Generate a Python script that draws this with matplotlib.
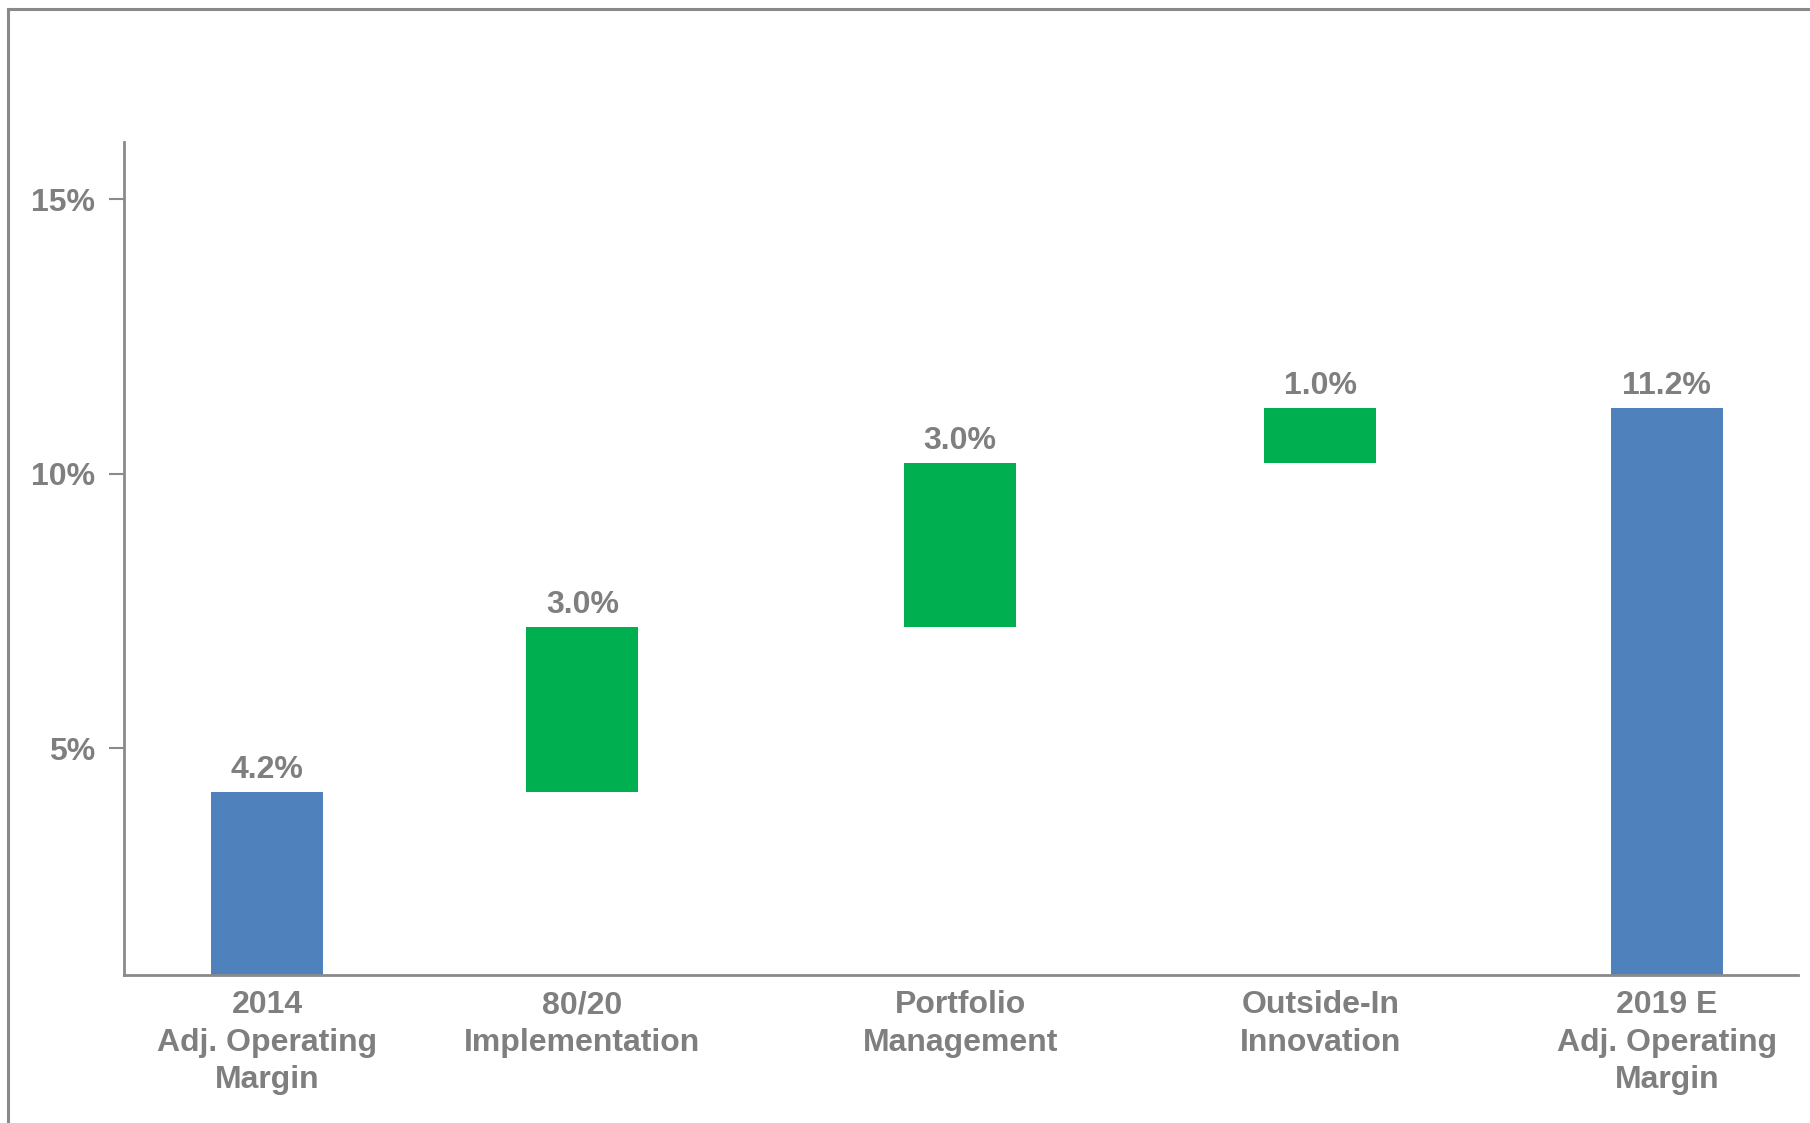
import matplotlib
matplotlib.use("Agg")
import matplotlib.pyplot as plt
from matplotlib.lines import Line2D
import numpy as np

# Margin bridge: start, drivers, end (percentage points)
categories = ["2014\nAdj. Operating\nMargin", "80/20\nImplementation",
              "Portfolio\nManagement", "Outside-In\nInnovation",
              "2019 E\nAdj. Operating\nMargin"]
start_margin = 4.2
drivers = [3.0, 3.0, 1.0]
end_margin = 11.2
yticks = [5, 10, 15]

plt.rcParams['font.family'] = ['Liberation Sans Narrow', 'Liberation Sans', 'DejaVu Sans']
plt.rcParams['font.weight'] = 'bold'

GRAY = '#7f7f7f'
LINE = '#8a8a8a'
BLUE = '#4f81bd'
GREEN = '#00b050'

fig = plt.figure(figsize=(18.10, 11.23), dpi=100)
ax = fig.add_axes([124 / 1810, 1 - 975 / 1123, (1798 - 124) / 1810, (975 - 142) / 1123])

# column slots are not evenly spaced on the slide
x = np.array([0, 0.9, 1.98, 3.01, 4.0])
width = 0.32

# totals drawn from zero, drivers stacked on the running total
heights = [start_margin] + drivers + [end_margin]
bottoms = [0] + list(start_margin + np.cumsum([0] + drivers[:-1])) + [0]
colors = [BLUE] + [GREEN] * len(drivers) + [BLUE]

ax.bar(x, heights, width, bottom=bottoms, color=colors, zorder=2)

for xi, h, b in zip(x, heights, bottoms):
    ax.annotate(f"{h:.1f}%", (xi, b + h), xytext=(0, 5), textcoords='offset points',
                ha='center', va='bottom', fontsize=23, color=GRAY, fontweight='bold')

ax.set_xlim(-0.41, 4.375)
ax.set_ylim(0.865, 16.04)
ax.set_yticks(yticks)
ax.set_yticklabels([f"{t}%" for t in yticks])
ax.set_xticks(x)
ax.set_xticklabels(categories, linespacing=1.32)

ax.tick_params(axis='y', direction='out', length=11, width=1.5, color=LINE,
               labelsize=23, labelcolor=GRAY, pad=10)
ax.tick_params(axis='x', length=0, labelsize=23, labelcolor=GRAY, pad=11)

for side in ['top', 'right']:
    ax.spines[side].set_visible(False)
for side in ['left', 'bottom']:
    ax.spines[side].set_color(LINE)
    ax.spines[side].set_linewidth(2)

# slide frame: top and left edges
fig.add_artist(Line2D([8 / 1810, 8 / 1810], [0, 1 - 9 / 1123], color=LINE, lw=2.2,
                      transform=fig.transFigure))
fig.add_artist(Line2D([8 / 1810, 1], [1 - 9 / 1123, 1 - 9 / 1123], color=LINE, lw=2.2,
                      transform=fig.transFigure))

fig.savefig("out.png", dpi=100)
